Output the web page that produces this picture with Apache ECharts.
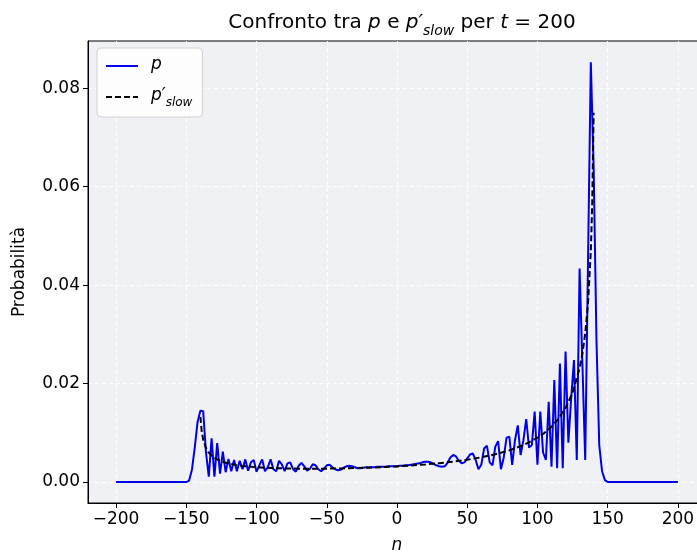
<!DOCTYPE html>
<html><head><meta charset="utf-8">
<script src="https://cdn.jsdelivr.net/npm/echarts@6/dist/echarts.min.js"></script>
<style>html,body{margin:0;padding:0;background:#fff}#c{width:697px;height:552px}</style>
</head><body><div id="c"></div>
<script>
// p(n) at t = 200, sampled on even sites from n = -200 to n = 200
const nStart = -200;
const nStep = 2;
const pValues = [
  0,0,0,0,0,0,0,0,0,0,0,0,0,0,0,0,0,0,0,0,0,0,0,0,0,
  // -150 .. -102
  0.0000,0.0003,0.0025,0.0070,0.0122,0.0145,0.0144,0.0060,0.0011,0.0089,
  0.0011,0.0079,0.0017,0.0062,0.0020,0.0047,0.0022,0.0045,0.0022,0.0043,
  0.0026,0.0046,0.0023,0.0040,0.0045,
  // -100 .. -52
  0.0021,0.0034,0.0046,0.0022,0.0030,0.0046,0.0026,0.0022,0.0043,0.0036,
  0.0022,0.0038,0.0040,0.0026,0.0021,0.0033,0.0039,0.0032,0.0023,0.0027,
  0.0036,0.0034,0.0026,0.0022,0.0027,
  // -50 .. -2
  0.0034,0.0035,0.0030,0.0026,0.0024,0.0025,0.0029,0.0032,0.0033,0.0032,
  0.0030,0.0028,0.0028,0.0029,0.0030,0.0030,0.0030,0.0030,0.0031,0.0031,
  0.0031,0.0031,0.0032,0.0032,0.0032,
  // 0 .. 48
  0.0032,0.0033,0.0033,0.0034,0.0034,0.0035,0.0036,0.0037,0.0038,0.0040,
  0.0041,0.0041,0.0040,0.0037,0.0034,0.0032,0.0031,0.0032,0.0039,0.0050,
  0.0055,0.0052,0.0043,0.0038,0.0040,
  // 50 .. 98
  0.0048,0.0056,0.0058,0.0045,0.0026,0.0035,0.0068,0.0074,0.0040,0.0034,
  0.0072,0.0083,0.0026,0.0050,0.0090,0.0092,0.0035,0.0085,0.0115,0.0055,
  0.0085,0.0128,0.0070,0.0075,0.0143,
  // 100 .. 148
  0.0035,0.0143,0.0060,0.0045,0.0163,0.0031,0.0207,0.0028,0.0241,0.0028,
  0.0265,0.0080,0.0170,0.0248,0.0045,0.0434,0.0240,0.0045,0.0450,0.0853,
  0.0640,0.0290,0.0075,0.0022,0.0004,
  // 150 .. 200
  0,0,0,0,0,0,0,0,0,0,0,0,0,0,0,0,0,0,0,0,0,0,0,0,0,0
];
// slow (averaged) distribution p'_slow
const slowN = [-140,-139,-138,-136,-134,-132,-130,-125,-120,-115,-110,-100,-90,-80,-70,-60,-50,-40,-30,-20,-10,0,
  10,20,30,40,50,60,70,80,90,100,105,110,115,120,125,130,132,134,136,138,139,140];
const slowValues = [0.01324,0.01019,0.00861,0.00691,0.00596,0.00534,0.00490,0.00419,0.00376,0.00347,0.00327,0.00300,
  0.00285,0.00276,0.00271,0.00270,0.00272,0.00277,0.00283,0.00292,0.00304,0.00318,
  0.00336,0.00357,0.00383,0.00415,0.00454,0.00502,0.00564,0.00643,0.00750,0.00900,0.01000,0.01125,0.01287,
  0.01504,0.01815,0.02310,0.02609,0.03017,0.03627,0.04697,0.05664,0.07503];
const xTicks = [-200,-150,-100,-50,0,50,100,150,200];
const yTicks = [0,0.02,0.04,0.06,0.08];

const FONT = 'DejaVu Sans';
const pData = pValues.map((v, i) => [nStart + i * nStep, v]);
const slowData = slowN.map((n, i) => [n, slowValues[i]]);

const chart = echarts.init(document.getElementById('c'), null, {renderer: 'canvas'});
chart.setOption({
  animation: false,
  backgroundColor: '#ffffff',
  title: {
    left: 397, top: 8, textAlign: 'center',
    text: '{n|Confronto tra }{i|p}{n| e }{i|p\u2032}{s|slow}{n| per }{i|t}{n| = 200}',
    textStyle: {
      fontWeight: 'normal',
      rich: {
        n: {fontFamily: FONT, fontSize: 20, fontWeight: 'normal', color: '#000', lineHeight: 24, verticalAlign: 'top'},
        i: {fontFamily: FONT, fontSize: 20, fontWeight: 'normal', fontStyle: 'italic', color: '#000', lineHeight: 24, verticalAlign: 'top'},
        s: {fontFamily: FONT, fontSize: 14, fontWeight: 'normal', fontStyle: 'italic', color: '#000', lineHeight: 14, padding: [11, 0, 0, 0], verticalAlign: 'top'}
      }
    }
  },
  legend: {
    left: 97, top: 48, orient: 'vertical',
    padding: [8, 10, 8, 8], itemGap: 14, itemWidth: 32, itemHeight: 14,
    backgroundColor: 'rgba(255,255,255,0.85)', borderColor: '#d0d0d0', borderWidth: 1, borderRadius: 4,
    itemStyle: {opacity: 0},
    data: ['p', 'pslow'],
    formatter: name => name === 'p' ? '{i|p}' : '{i|p\u2032}{s|slow}',
    textStyle: {
      padding: [0, 0, 0, 8],
      rich: {
        i: {fontFamily: FONT, fontSize: 17, fontStyle: 'italic', color: '#000', lineHeight: 20, verticalAlign: 'top'},
        s: {fontFamily: FONT, fontSize: 12, fontStyle: 'italic', color: '#000', lineHeight: 12, padding: [10, 0, 0, 0], verticalAlign: 'top'}
      }
    }
  },
  grid: {
    left: 88, right: -9, top: 41, bottom: 49,
    show: true, backgroundColor: '#eff1f4', borderColor: '#000', borderWidth: 1,
    outerBoundsMode: 'none', containLabel: false
  },
  xAxis: {
    type: 'value', min: -220, max: 220,
    name: 'n', nameLocation: 'middle', nameGap: 34,
    nameTextStyle: {fontFamily: FONT, fontSize: 17, fontStyle: 'italic', color: '#000'},
    axisLine: {show: true, onZero: false, lineStyle: {color: '#000', width: 1}},
    axisTick: {show: true, length: 5, customValues: xTicks, lineStyle: {color: '#000'}},
    axisLabel: {customValues: xTicks, fontFamily: FONT, fontSize: 17, color: '#000', margin: 8,
      formatter: v => v < 0 ? '\u2212' + Math.abs(v) : String(v)},
    splitLine: {show: true, lineStyle: {color: '#ffffff', type: [4, 3], width: 1}}
  },
  yAxis: {
    type: 'value', min: -0.00426, max: 0.0896,
    name: 'Probabilità', nameLocation: 'middle', nameGap: 60,
    nameTextStyle: {fontFamily: FONT, fontSize: 17, color: '#000'},
    axisLine: {show: true, onZero: false, lineStyle: {color: '#000', width: 1}},
    axisTick: {show: true, length: 5, customValues: yTicks, lineStyle: {color: '#000'}},
    axisLabel: {customValues: yTicks, fontFamily: FONT, fontSize: 17, color: '#000', margin: 8,
      formatter: v => v.toFixed(2)},
    splitLine: {show: true, lineStyle: {color: '#ffffff', type: [4, 3], width: 1}}
  },
  series: [
    {name: 'p', type: 'line', data: pData, showSymbol: false, symbol: 'none',
      lineStyle: {color: '#0000e6', width: 2}, itemStyle: {color: '#0000e6'}, z: 2},
    {name: 'pslow', type: 'line', data: slowData, showSymbol: false, symbol: 'none',
      lineStyle: {color: '#000', width: 2, type: [6, 3]}, itemStyle: {color: '#000'}, z: 3}
  ]
});
</script>
</body></html>
